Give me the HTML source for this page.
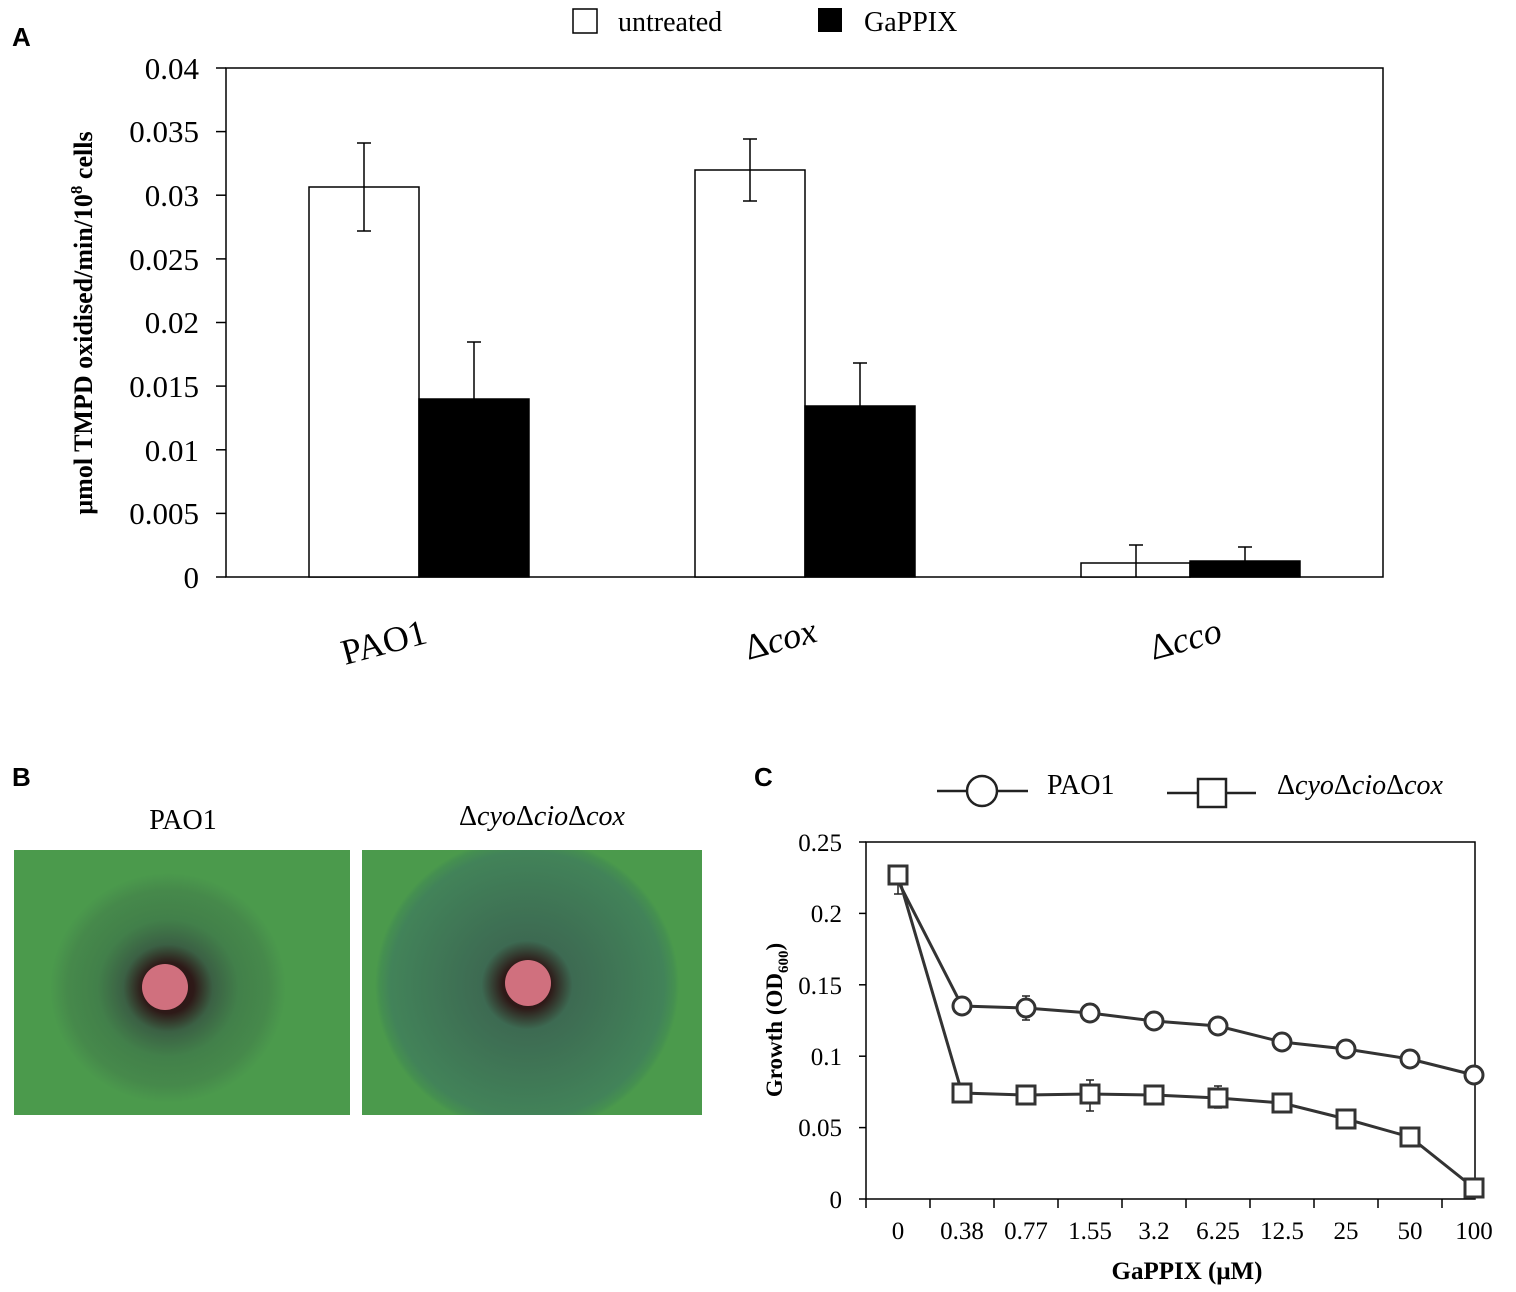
<!DOCTYPE html>
<html><head><meta charset="utf-8"><style>
html,body{margin:0;padding:0;background:#fff;}
svg{display:block;}
text{font-family:"Liberation Serif",serif;fill:#000;}
.sans{font-family:"Liberation Sans",sans-serif;font-weight:bold;}
</style></head><body>
<svg width="1516" height="1292" viewBox="0 0 1516 1292" xmlns="http://www.w3.org/2000/svg">
<defs>
<radialGradient id="g1" cx="0.5" cy="0.5" r="0.5">
<stop offset="0" stop-color="#2a0c10"/><stop offset="0.22" stop-color="#2e1a18"/><stop offset="0.38" stop-color="#3b6044"/><stop offset="0.6" stop-color="#42804a"/><stop offset="0.85" stop-color="#46894b"/><stop offset="1" stop-color="#4b9a4c"/>
</radialGradient>
<radialGradient id="g2" cx="0.5" cy="0.5" r="0.5">
<stop offset="0" stop-color="#2a0c10"/><stop offset="0.16" stop-color="#2e1a18"/><stop offset="0.3" stop-color="#3d6a52"/><stop offset="0.9" stop-color="#428359"/><stop offset="0.97" stop-color="#459050"/><stop offset="1" stop-color="#4b9a4c"/>
</radialGradient>
<clipPath id="c1"><rect x="14" y="850" width="336" height="265"/></clipPath>
<clipPath id="c2"><rect x="362" y="850" width="340" height="265"/></clipPath>
</defs>
<!-- Panel A -->
<text x="12" y="46" class="sans" font-size="26">A</text>
<rect x="573" y="9" width="24" height="24" fill="#fff" stroke="#000" stroke-width="1.5"/>
<text x="618" y="31" font-size="28">untreated</text>
<rect x="818" y="8" width="24" height="24" fill="#000"/>
<text x="864" y="31" font-size="28">GaPPIX</text>
<rect x="226" y="68" width="1157" height="509" fill="none" stroke="#000" stroke-width="1.5"/>
<g stroke="#000" stroke-width="1.5">
<line x1="216" y1="68" x2="226" y2="68"/><line x1="216" y1="131.6" x2="226" y2="131.6"/><line x1="216" y1="195.2" x2="226" y2="195.2"/><line x1="216" y1="258.9" x2="226" y2="258.9"/><line x1="216" y1="322.5" x2="226" y2="322.5"/><line x1="216" y1="386.1" x2="226" y2="386.1"/><line x1="216" y1="449.8" x2="226" y2="449.8"/><line x1="216" y1="513.4" x2="226" y2="513.4"/><line x1="216" y1="577" x2="226" y2="577"/>
</g>
<g font-size="31" text-anchor="end">
<text x="199" y="79">0.04</text><text x="199" y="142">0.035</text><text x="199" y="206">0.03</text><text x="199" y="270">0.025</text><text x="199" y="333">0.02</text><text x="199" y="397">0.015</text><text x="199" y="461">0.01</text><text x="199" y="524">0.005</text><text x="199" y="588">0</text>
</g>
<text transform="translate(92,323) rotate(-90)" font-size="26" font-weight="bold" text-anchor="middle">μmol TMPD oxidised/min/10<tspan dy="-10" font-size="17">8</tspan><tspan dy="10"> cells</tspan></text>
<g stroke="#000" stroke-width="1.5">
<rect x="309" y="187" width="110" height="390" fill="#fff"/>
<rect x="419" y="399" width="110" height="178" fill="#000"/>
<rect x="695" y="170" width="110" height="407" fill="#fff"/>
<rect x="805" y="406" width="110" height="171" fill="#000"/>
<rect x="1081" y="563" width="109" height="14" fill="#fff"/>
<rect x="1190" y="561" width="110" height="16" fill="#000"/>
<path d="M364 143V231M357 143H371M357 231H371M474 342V399M467 342H481M750 139V201M743 139H757M743 201H757M860 363V406M853 363H867M1136 545V577M1129 545H1143M1245 547V561M1238 547H1252" fill="none"/>
</g>
<g font-size="36">
<text transform="translate(345,665) rotate(-15)">PAO1</text>
<text transform="translate(748,660) rotate(-15)">Δ<tspan font-style="italic">cox</tspan></text>
<text transform="translate(1153,660) rotate(-15)">Δ<tspan font-style="italic">cco</tspan></text>
</g>
<!-- Panel B -->
<text x="12" y="786" class="sans" font-size="26">B</text>
<text x="183" y="829" font-size="28" text-anchor="middle">PAO1</text>
<text x="542" y="825" font-size="28" text-anchor="middle">Δ<tspan font-style="italic">cyo</tspan>Δ<tspan font-style="italic">cio</tspan>Δ<tspan font-style="italic">cox</tspan></text>
<rect x="14" y="850" width="336" height="265" fill="#4b9a4c"/>
<ellipse clip-path="url(#c1)" cx="168" cy="988" rx="118" ry="115" fill="url(#g1)"/>
<circle cx="165" cy="987" r="23" fill="#d0707e"/>
<rect x="362" y="850" width="340" height="265" fill="#4b9a4c"/>
<ellipse clip-path="url(#c2)" cx="527" cy="985" rx="152" ry="148" fill="url(#g2)"/>
<circle cx="528" cy="983" r="23" fill="#d0707e"/>
<!-- Panel C -->
<text x="754" y="786" class="sans" font-size="26">C</text>
<g stroke="#222" stroke-width="2.5" fill="#fff">
<line x1="937" y1="791" x2="1028" y2="791"/><circle cx="982" cy="791" r="15"/>
<line x1="1167" y1="793" x2="1256" y2="793"/><rect x="1198" y="779" width="28" height="28"/>
</g>
<text x="1047" y="794" font-size="28">PAO1</text>
<text x="1277" y="794" font-size="28">Δ<tspan font-style="italic">cyo</tspan>Δ<tspan font-style="italic">cio</tspan>Δ<tspan font-style="italic">cox</tspan></text>
<rect x="866" y="842" width="609" height="357" fill="none" stroke="#000" stroke-width="1.5"/>
<g stroke="#000" stroke-width="1.5">
<line x1="859" y1="842" x2="866" y2="842"/><line x1="859" y1="913.4" x2="866" y2="913.4"/><line x1="859" y1="984.8" x2="866" y2="984.8"/><line x1="859" y1="1056.2" x2="866" y2="1056.2"/><line x1="859" y1="1127.6" x2="866" y2="1127.6"/><line x1="859" y1="1199" x2="866" y2="1199"/>
<path d="M866 1199v9M930 1199v9M994 1199v9M1058 1199v9M1122 1199v9M1186 1199v9M1250 1199v9M1314 1199v9M1378 1199v9M1442 1199v9"/>
</g>
<g font-size="25" text-anchor="end">
<text x="842" y="851">0.25</text><text x="842" y="922">0.2</text><text x="842" y="994">0.15</text><text x="842" y="1065">0.1</text><text x="842" y="1136">0.05</text><text x="842" y="1208">0</text>
</g>
<g font-size="25" text-anchor="middle">
<text x="898" y="1239">0</text><text x="962" y="1239">0.38</text><text x="1026" y="1239">0.77</text><text x="1090" y="1239">1.55</text><text x="1154" y="1239">3.2</text><text x="1218" y="1239">6.25</text><text x="1282" y="1239">12.5</text><text x="1346" y="1239">25</text><text x="1410" y="1239">50</text><text x="1474" y="1239">100</text>
</g>
<text x="1187" y="1279" font-size="25" font-weight="bold" text-anchor="middle">GaPPIX (μM)</text>
<text transform="translate(782,1020) rotate(-90)" font-size="23" font-weight="bold" text-anchor="middle">Growth (OD<tspan dy="6" font-size="15">600</tspan><tspan dy="-6">)</tspan></text>
<g stroke="#222" stroke-width="1.5" fill="none">
<path d="M898 873v21M894 894h8M962 998v16M958 998h8M958 1014h8M1026 996v24M1022 996h8M1022 1020h8M1090 1004v17M1086 1004h8M1086 1021h8M1154 1013v16M1150 1013h8M1150 1029h8M1218 1018v16M1214 1018h8M1214 1034h8M1090 1080v31M1086 1080h8M1086 1111h8M1154 1086v17M1150 1086h8M1150 1103h8M1218 1086v22M1214 1086h8M1214 1108h8M1410 1132v13M1406 1145h8"/>
</g>
<g stroke="#333" stroke-width="3" fill="#fff">
<polyline fill="none" points="898,881 962,1006 1026,1008 1090,1013 1154,1021 1218,1026 1282,1042 1346,1049 1410,1059 1474,1075"/>
<polyline fill="none" points="898,875 962,1093 1026,1095 1090,1094 1154,1095 1218,1098 1282,1103 1346,1119 1410,1137 1474,1188"/>
<circle cx="962" cy="1006" r="9"/><circle cx="1026" cy="1008" r="9"/><circle cx="1090" cy="1013" r="9"/><circle cx="1154" cy="1021" r="9"/><circle cx="1218" cy="1026" r="9"/><circle cx="1282" cy="1042" r="9"/><circle cx="1346" cy="1049" r="9"/><circle cx="1410" cy="1059" r="9"/><circle cx="1474" cy="1075" r="9"/>
<rect x="889" y="866" width="18" height="18"/>
<rect x="953" y="1084" width="18" height="18"/><rect x="1017" y="1086" width="18" height="18"/><rect x="1081" y="1085" width="18" height="18"/><rect x="1145" y="1086" width="18" height="18"/><rect x="1209" y="1089" width="18" height="18"/><rect x="1273" y="1094" width="18" height="18"/><rect x="1337" y="1110" width="18" height="18"/><rect x="1401" y="1128" width="18" height="18"/><rect x="1465" y="1179" width="18" height="18"/>
</g>
</svg>
</body></html>
